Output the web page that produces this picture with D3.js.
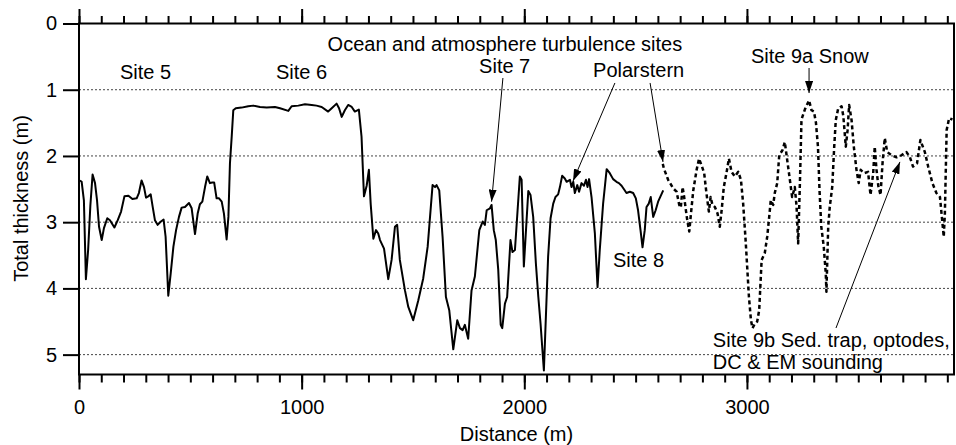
<!DOCTYPE html>
<html>
<head>
<meta charset="utf-8">
<script src="https://cdn.jsdelivr.net/npm/d3@7"></script>
<style>
  html, body { margin: 0; padding: 0; background: #fff; }
  svg { display: block; }
  text { font-family: "Liberation Sans", Arial, Helvetica, sans-serif; fill: #000; }
</style>
</head>
<body>
<svg id="chart" width="956" height="445"></svg>
<script>
// ---------- DATA ----------
const solidDistance = [4,12,22,31,41,51,61,72,81,90,102,112,127,139,159,174,189,204,222,240,259,269,281,292,301,311,322,331,341,353,368,380,389,401,412,424,436,449,461,476,494,506,521,533,543,554,566,576,588,598,607,618,629,641,651,663,671,678,686,693,704,730,760,783,813,843,880,903,940,955,985,1015,1045,1067,1090,1119,1135,1157,1168,1180,1194,1209,1225,1239,1257,1269,1280,1292,1302,1310,1322,1334,1344,1352,1370,1389,1404,1419,1429,1441,1464,1479,1501,1524,1546,1566,1588,1599,1606,1618,1633,1648,1663,1681,1699,1711,1723,1733,1748,1763,1778,1798,1813,1823,1831,1846,1853,1863,1872,1883,1894,1901,1913,1923,1938,1947,1958,1980,1988,1998,2018,2028,2040,2052,2063,2073,2088,2107,2118,2130,2140,2152,2160,2170,2182,2190,2205,2212,2220,2227,2238,2246,2257,2268,2277,2284,2291,2302,2317,2329,2339,2354,2370,2384,2399,2414,2425,2437,2447,2459,2474,2489,2501,2511,2522,2531,2541,2549,2559,2568,2579,2590,2601,2624];
const solidThickness = [2.37,2.39,2.67,3.86,3.42,2.75,2.28,2.41,2.67,3.07,3.27,3.09,2.94,2.97,3.08,2.97,2.84,2.61,2.60,2.65,2.64,2.56,2.37,2.47,2.63,2.61,2.58,2.77,2.97,3.04,2.99,2.96,3.22,4.11,3.77,3.37,3.12,2.92,2.78,2.77,2.71,2.79,3.18,2.87,2.73,2.69,2.47,2.31,2.41,2.40,2.40,2.64,2.64,2.69,2.87,3.26,2.92,2.11,1.70,1.31,1.28,1.27,1.25,1.24,1.26,1.27,1.26,1.28,1.32,1.25,1.24,1.22,1.23,1.24,1.26,1.33,1.28,1.21,1.28,1.41,1.31,1.23,1.26,1.33,1.30,1.71,2.61,2.45,2.21,2.72,3.25,3.12,3.17,3.27,3.40,3.86,3.57,3.07,3.04,3.57,4.03,4.28,4.48,4.18,3.85,3.37,2.44,2.47,2.44,2.52,3.22,4.13,4.33,4.92,4.48,4.60,4.63,4.55,4.76,4.03,3.82,3.12,2.99,3.04,2.82,2.79,2.74,3.12,3.27,3.72,4.55,4.60,4.23,4.13,3.27,3.45,3.42,2.31,2.36,3.67,2.53,2.59,2.92,3.62,4.13,4.53,5.24,3.52,2.94,2.72,2.62,2.58,2.47,2.30,2.34,2.39,2.36,2.47,2.39,2.56,2.44,2.54,2.41,2.45,2.36,2.47,2.35,2.62,3.17,3.98,3.42,2.72,2.20,2.26,2.35,2.39,2.41,2.45,2.50,2.56,2.54,2.56,2.64,2.82,3.12,3.38,3.12,2.77,2.72,2.62,2.92,2.82,2.69,2.52];

const dashedDistance = [2622,2627,2646,2669,2684,2696,2703,2711,2718,2725,2732,2741,2748,2759,2774,2785,2796,2808,2818,2829,2837,2845,2856,2868,2878,2887,2896,2908,2919,2931,2946,2961,2973,2983,2994,3001,3009,3018,3025,3036,3046,3055,3066,3080,3091,3100,3107,3118,3125,3136,3145,3160,3170,3178,3190,3203,3215,3223,3230,3238,3245,3260,3279,3290,3301,3310,3319,3326,3334,3345,3354,3357,3365,3372,3383,3392,3399,3410,3425,3433,3444,3452,3459,3470,3480,3492,3502,3511,3526,3544,3555,3567,3574,3582,3590,3600,3609,3619,3630,3649,3672,3694,3716,3731,3746,3764,3779,3799,3814,3833,3851,3867,3874,3884,3889,3897,3908,3923];
const dashedThickness = [2.12,2.19,2.36,2.49,2.54,2.74,2.78,2.47,2.62,2.80,2.97,3.14,2.89,2.52,2.21,2.04,2.14,2.26,2.56,2.84,2.62,2.74,2.77,2.87,3.07,2.80,2.47,2.26,2.04,2.24,2.31,2.24,2.36,2.72,3.27,3.67,4.13,4.48,4.60,4.53,4.50,4.33,3.57,3.47,3.22,2.92,2.67,2.74,2.56,2.41,1.99,1.91,1.79,1.99,2.29,2.62,2.47,2.77,3.32,2.40,1.45,1.30,1.16,1.31,1.33,1.50,1.86,2.52,3.07,3.37,3.77,4.05,3.07,2.77,2.47,1.86,1.46,1.28,1.25,1.40,1.86,1.61,1.23,1.46,1.86,2.21,2.41,2.21,2.26,2.24,2.59,2.26,1.86,2.21,2.45,2.59,2.11,1.73,1.94,1.99,2.02,1.99,1.94,2.01,2.16,2.11,1.76,1.94,2.16,2.41,2.56,2.62,2.87,3.22,2.87,1.61,1.43,1.45];

const xMajorTicks = [0, 1000, 2000, 3000];
const xTickLabels = ["0", "1000", "2000", "3000"];
const yTicks = [0, 1, 2, 3, 4, 5];
const yTickLabels = ["0", "1", "2", "3", "4", "5"];
const gridValues = [1, 2, 3, 4, 5];

const xTitle = "Distance (m)";
const yTitle = "Total thickness (m)";

// annotation texts (positions in data units: distance m, thickness m)
const labels = [
  { text: "Ocean and atmosphere turbulence sites", x: 1913, y: 0.415, anchor: "middle" },
  { text: "Site 5", x: 184, y: 0.838, anchor: "start" },
  { text: "Site 6", x: 885, y: 0.838, anchor: "start" },
  { text: "Site 7", x: 1797, y: 0.747, anchor: "start" },
  { text: "Polarstern", x: 2309, y: 0.808, anchor: "start" },
  { text: "Site 9a Snow", x: 3018, y: 0.596, anchor: "start" },
  { text: "Site 8", x: 2398, y: 3.677, anchor: "start" },
  { text: "Site 9b Sed. trap, optodes,", x: 2847, y: 4.885, anchor: "start" },
  { text: "DC & EM sounding", x: 2847, y: 5.217, anchor: "start" }
];
const arrows = [
  { x1: 1904, y1: 0.823, x2: 1853, y2: 2.69 },
  { x1: 2407, y1: 0.898, x2: 2219, y2: 2.378 },
  { x1: 2565, y1: 0.898, x2: 2623, y2: 2.09 },
  { x1: 3279, y1: 0.672, x2: 3279, y2: 1.05 },
  { x1: 3400, y1: 4.598, x2: 3687, y2: 2.09 }
];

// ---------- LAYOUT ----------
const svg = d3.select("#chart");
const L = 79, R = 954, T = 23.5, B = 374.5;
const x = d3.scaleLinear().domain([0, 3930]).range([L, R]);
const y = d3.scaleLinear().domain([0, 5.3]).range([T, B]);

const defs = svg.append("defs");
defs.append("marker")
  .attr("id", "arrow")
  .attr("viewBox", "0 0 12 8")
  .attr("refX", 12).attr("refY", 4)
  .attr("markerWidth", 12).attr("markerHeight", 8)
  .attr("markerUnits", "userSpaceOnUse")
  .attr("orient", "auto")
  .append("path").attr("d", "M0,0 L12,4 L0,8 Z").attr("fill", "#000");

// grid
svg.append("g").selectAll("line").data(gridValues).join("line")
  .attr("x1", L).attr("x2", R)
  .attr("y1", d => y(d)).attr("y2", d => y(d))
  .attr("stroke", "#444").attr("stroke-width", 1)
  .attr("stroke-dasharray", "2,2");

// axes
function styleAxis(g) {
  g.select(".domain").remove();
  g.selectAll(".tick line").attr("stroke", "#000").attr("stroke-width", 2);
  g.selectAll("text").style("font-size", "20px")
    .style("font-family", '"Liberation Sans", Arial, sans-serif').attr("fill", "#000");
}
const minorX = d3.range(0, 3901, 100);

svg.append("g").attr("transform", `translate(0,${T})`)
  .call(d3.axisTop(x).tickValues(minorX).tickSize(7.5).tickFormat(""))
  .call(styleAxis);
svg.append("g").attr("transform", `translate(0,${T})`)
  .call(d3.axisTop(x).tickValues(xMajorTicks).tickSize(14.5).tickFormat(""))
  .call(styleAxis);
svg.append("g").attr("transform", `translate(0,${B})`)
  .call(d3.axisBottom(x).tickValues(minorX).tickSize(8).tickFormat(""))
  .call(styleAxis);
svg.append("g").attr("transform", `translate(0,${B})`)
  .call(d3.axisBottom(x).tickValues(xMajorTicks).tickSize(15).tickPadding(10)
    .tickFormat((d, i) => xTickLabels[i]))
  .call(styleAxis);
svg.append("g").attr("transform", `translate(${L},0)`)
  .call(d3.axisLeft(y).tickValues(yTicks).tickSize(16).tickPadding(6)
    .tickFormat((d, i) => yTickLabels[i]))
  .call(styleAxis);

// frame
svg.append("rect").attr("x", L).attr("y", T).attr("width", R - L).attr("height", B - T)
  .attr("fill", "none").attr("stroke", "#000").attr("stroke-width", 2);

// lines
const line = d3.line().x(d => x(d[0])).y(d => y(d[1]));
const solid = solidDistance.map((d, i) => [d, solidThickness[i]]);
const dashed = dashedDistance.map((d, i) => [d, dashedThickness[i]]);

svg.append("path").datum(solid).attr("d", line)
  .attr("fill", "none").attr("stroke", "#000").attr("stroke-width", 2)
  .attr("stroke-linejoin", "round");
svg.append("path").datum(dashed).attr("d", line)
  .attr("fill", "none").attr("stroke", "#000").attr("stroke-width", 2.5)
  .attr("stroke-dasharray", "4,3").attr("stroke-linejoin", "round");

// annotation arrows
svg.append("g").selectAll("line").data(arrows).join("line")
  .attr("x1", d => x(d.x1)).attr("y1", d => y(d.y1))
  .attr("x2", d => x(d.x2)).attr("y2", d => y(d.y2))
  .attr("stroke", "#000").attr("stroke-width", 1)
  .attr("marker-end", "url(#arrow)");

// annotation texts
svg.append("g").selectAll("text").data(labels).join("text")
  .attr("x", d => x(d.x)).attr("y", d => y(d.y))
  .attr("text-anchor", d => d.anchor)
  .style("font-size", "20px")
  .text(d => d.text);

// axis titles
svg.append("text").attr("x", (L + R) / 2).attr("y", 441)
  .attr("text-anchor", "middle").style("font-size", "20px").text(xTitle);
svg.append("text").attr("transform", `translate(28,198.5) rotate(-90)`)
  .attr("text-anchor", "middle").style("font-size", "20px").text(yTitle);
</script>
</body>
</html>
